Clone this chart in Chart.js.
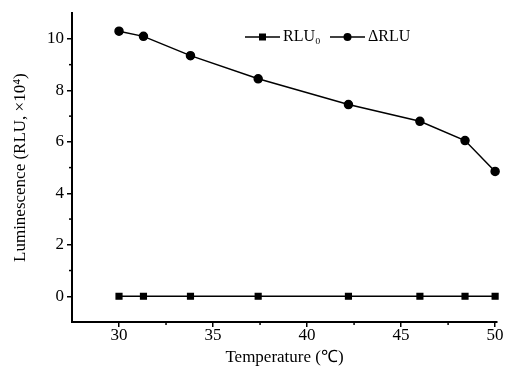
<!DOCTYPE html>
<html>
<head>
<meta charset="utf-8">
<script src="https://cdn.jsdelivr.net/npm/chart.js@4/dist/chart.umd.min.js"></script>
<style>
  html, body { margin: 0; padding: 0; background: #fff; }
  #wrap { width: 507px; height: 368px; }
</style>
</head>
<body>
<div id="wrap"><canvas id="chart"></canvas></div>
<script>
// chart values
const temperatures = [30, 31.3, 33.8, 37.4, 42.2, 46, 48.4, 50];
const rlu0 = [0, 0, 0, 0, 0, 0, 0, 0];
const deltaRlu = [10.3, 10.1, 9.35, 8.45, 7.45, 6.8, 6.05, 4.85];
const xTicks = [30, 35, 40, 45, 50];
const xMinorTicks = [32.5, 37.5, 42.5, 47.5];
const yTicks = [0, 2, 4, 6, 8, 10];
const yMinorTicks = [1, 3, 5, 7, 9];
const seriesLabels = ['RLU₀', 'ΔRLU'];

const FONT = '"Liberation Serif", "Times New Roman", serif';

// minor ticks + line/marker legend
const extras = {
    id: 'extras',
    afterDraw(chart) {
        const ctx = chart.ctx;
        const x = chart.scales.x, y = chart.scales.y;
        ctx.save();
        ctx.strokeStyle = '#000';
        ctx.lineWidth = 1.5;
        xMinorTicks.forEach(v => {
            const px = x.getPixelForValue(v);
            ctx.beginPath();
            ctx.moveTo(px, x.top);
            ctx.lineTo(px, x.top + 3);
            ctx.stroke();
        });
        yMinorTicks.forEach(v => {
            const py = y.getPixelForValue(v);
            ctx.beginPath();
            ctx.moveTo(y.right, py);
            ctx.lineTo(y.right - 3, py);
            ctx.stroke();
        });

        // legend
        const ly = 37;
        const items = [{ x: 245, style: 'rect' }, { x: 330, style: 'circle' }];
        ctx.font = '16px ' + FONT;
        ctx.fillStyle = '#000';
        ctx.textBaseline = 'middle';
        items.forEach((it, i) => {
            ctx.beginPath();
            ctx.moveTo(it.x, ly);
            ctx.lineTo(it.x + 35, ly);
            ctx.stroke();
            const cx = it.x + 17.5;
            if (it.style === 'rect') {
                ctx.fillRect(cx - 3.5, ly - 3.5, 7, 7);
            } else {
                ctx.beginPath();
                ctx.arc(cx, ly, 4, 0, Math.PI * 2);
                ctx.fill();
            }
            ctx.fillText(seriesLabels[i], it.x + 38, ly);
        });
        ctx.restore();
    }
};

new Chart(document.getElementById('chart'), {
    type: 'line',
    data: {
        datasets: [
            {
                label: seriesLabels[0],
                data: temperatures.map((t, i) => ({ x: t, y: rlu0[i] })),
                borderColor: '#000',
                backgroundColor: '#000',
                borderWidth: 1.5,
                pointStyle: 'rect',
                pointRadius: 4,
                clip: false
            },
            {
                label: seriesLabels[1],
                data: temperatures.map((t, i) => ({ x: t, y: deltaRlu[i] })),
                borderColor: '#000',
                backgroundColor: '#000',
                borderWidth: 1.5,
                pointStyle: 'circle',
                pointRadius: 4,
                clip: false
            }
        ]
    },
    options: {
        responsive: true,
        maintainAspectRatio: false,
        animation: false,
        layout: { padding: { left: 8, right: 10, top: 10, bottom: 0 } },
        plugins: { legend: { display: false }, tooltip: { enabled: false } },
        scales: {
            x: {
                type: 'linear',
                min: 27.5,
                max: 50.1,
                afterBuildTicks: s => { s.ticks = xTicks.map(v => ({ value: v })); },
                afterFit: s => { s.height = 46; },
                grid: { drawOnChartArea: false, drawTicks: true, tickLength: 5, color: '#000', lineWidth: 1.5 },
                border: { color: '#000', width: 2 },
                ticks: { color: '#000', font: { family: FONT, size: 17 }, padding: -2, maxRotation: 0 },
                title: { display: true, text: 'Temperature (℃)', color: '#000', font: { family: FONT, size: 17 }, padding: { top: -3, bottom: 0 } }
            },
            y: {
                type: 'linear',
                min: -1,
                max: 11,
                afterBuildTicks: s => { s.ticks = yTicks.map(v => ({ value: v })); },
                afterFit: s => { s.width = 64; },
                grid: { drawOnChartArea: false, drawTicks: true, tickLength: 5, color: '#000', lineWidth: 1.5 },
                border: { color: '#000', width: 2 },
                ticks: { color: '#000', font: { family: FONT, size: 17 }, padding: 3 },
                title: { display: true, text: 'Luminescence (RLU, ×10⁴)', color: '#000', font: { family: FONT, size: 17 }, padding: 2 }
            }
        }
    },
    plugins: [extras]
});
</script>
</body>
</html>
